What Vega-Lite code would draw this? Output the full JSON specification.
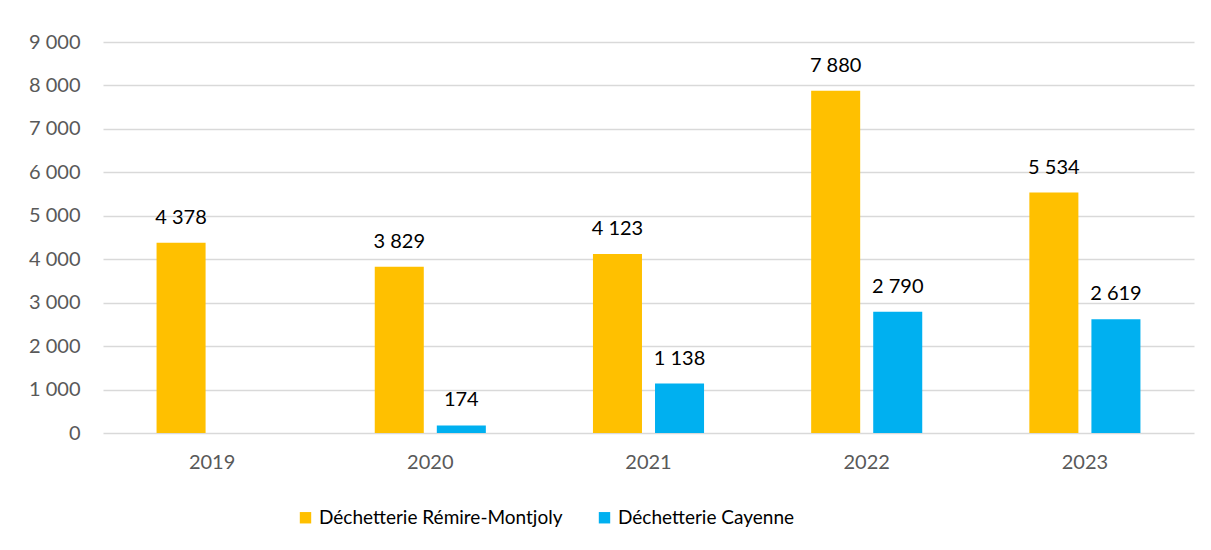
{
  "$schema": "https://vega.github.io/schema/vega-lite/v6.json",
  "width": 1091,
  "height": 391,
  "autosize": {"type": "none"},
  "padding": {"left": 103, "top": 42, "right": 17, "bottom": 117},
  "background": "white",
  "config": {
    "locale": {"number": {"decimal": ",", "thousands": " ", "grouping": [3], "currency": ["", ""]}},
    "view": {"stroke": null},
    "font": "Lato"
  },
  "data": {
    "values": [
      {"year": "2019", "site": "Déchetterie Rémire-Montjoly", "value": 4378},
      {"year": "2020", "site": "Déchetterie Rémire-Montjoly", "value": 3829},
      {"year": "2020", "site": "Déchetterie Cayenne", "value": 174},
      {"year": "2021", "site": "Déchetterie Rémire-Montjoly", "value": 4123},
      {"year": "2021", "site": "Déchetterie Cayenne", "value": 1138},
      {"year": "2022", "site": "Déchetterie Rémire-Montjoly", "value": 7880},
      {"year": "2022", "site": "Déchetterie Cayenne", "value": 2790},
      {"year": "2023", "site": "Déchetterie Rémire-Montjoly", "value": 5534},
      {"year": "2023", "site": "Déchetterie Cayenne", "value": 2619}
    ]
  },
  "encoding": {
    "x": {
      "field": "year", "type": "nominal",
      "scale": {"paddingInner": 0, "paddingOuter": 0},
      "axis": {"title": null, "labelAngle": 0, "domain": false, "ticks": false, "labelPadding": 19, "labelFontSize": 20, "labelColor": "#595959", "labelFont": "Lato"}
    },
    "xOffset": {
      "field": "site", "type": "nominal",
      "scale": {"domain": ["Déchetterie Rémire-Montjoly", "Déchetterie Cayenne"], "paddingInner": 0.21, "paddingOuter": 0.863}
    },
    "y": {
      "field": "value", "type": "quantitative",
      "scale": {"domain": [0, 9000], "nice": false},
      "axis": {"title": null, "values": [0, 1000, 2000, 3000, 4000, 5000, 6000, 7000, 8000, 9000], "format": ",.0f", "domain": false, "ticks": false, "labelPadding": 23, "labelFontSize": 20, "labelColor": "#595959", "gridColor": "#d9d9d9", "gridWidth": 1.3, "labelFont": "Lato"}
    }
  },
  "layer": [
    {
      "mark": {"type": "bar"},
      "encoding": {
        "color": {
          "field": "site", "type": "nominal",
          "scale": {"domain": ["Déchetterie Rémire-Montjoly", "Déchetterie Cayenne"], "range": ["#FFC000", "#00B0F0"]},
          "legend": {
            "title": null, "orient": "none", "direction": "horizontal",
            "legendX": 193, "legendY": 466,
            "symbolType": "square", "symbolSize": 130, "symbolStrokeWidth": 0,
            "labelFontSize": 19, "labelColor": "#000000", "labelFont": "Lato", "labelLimit": 500,
            "columnPadding": 32, "labelOffset": 4
          }
        }
      }
    },
    {
      "mark": {"type": "text", "baseline": "alphabetic", "dy": -19, "fontSize": 20, "color": "#000000", "font": "Lato"},
      "encoding": {
        "text": {"field": "value", "type": "quantitative", "format": ","}
      }
    }
  ]
}
